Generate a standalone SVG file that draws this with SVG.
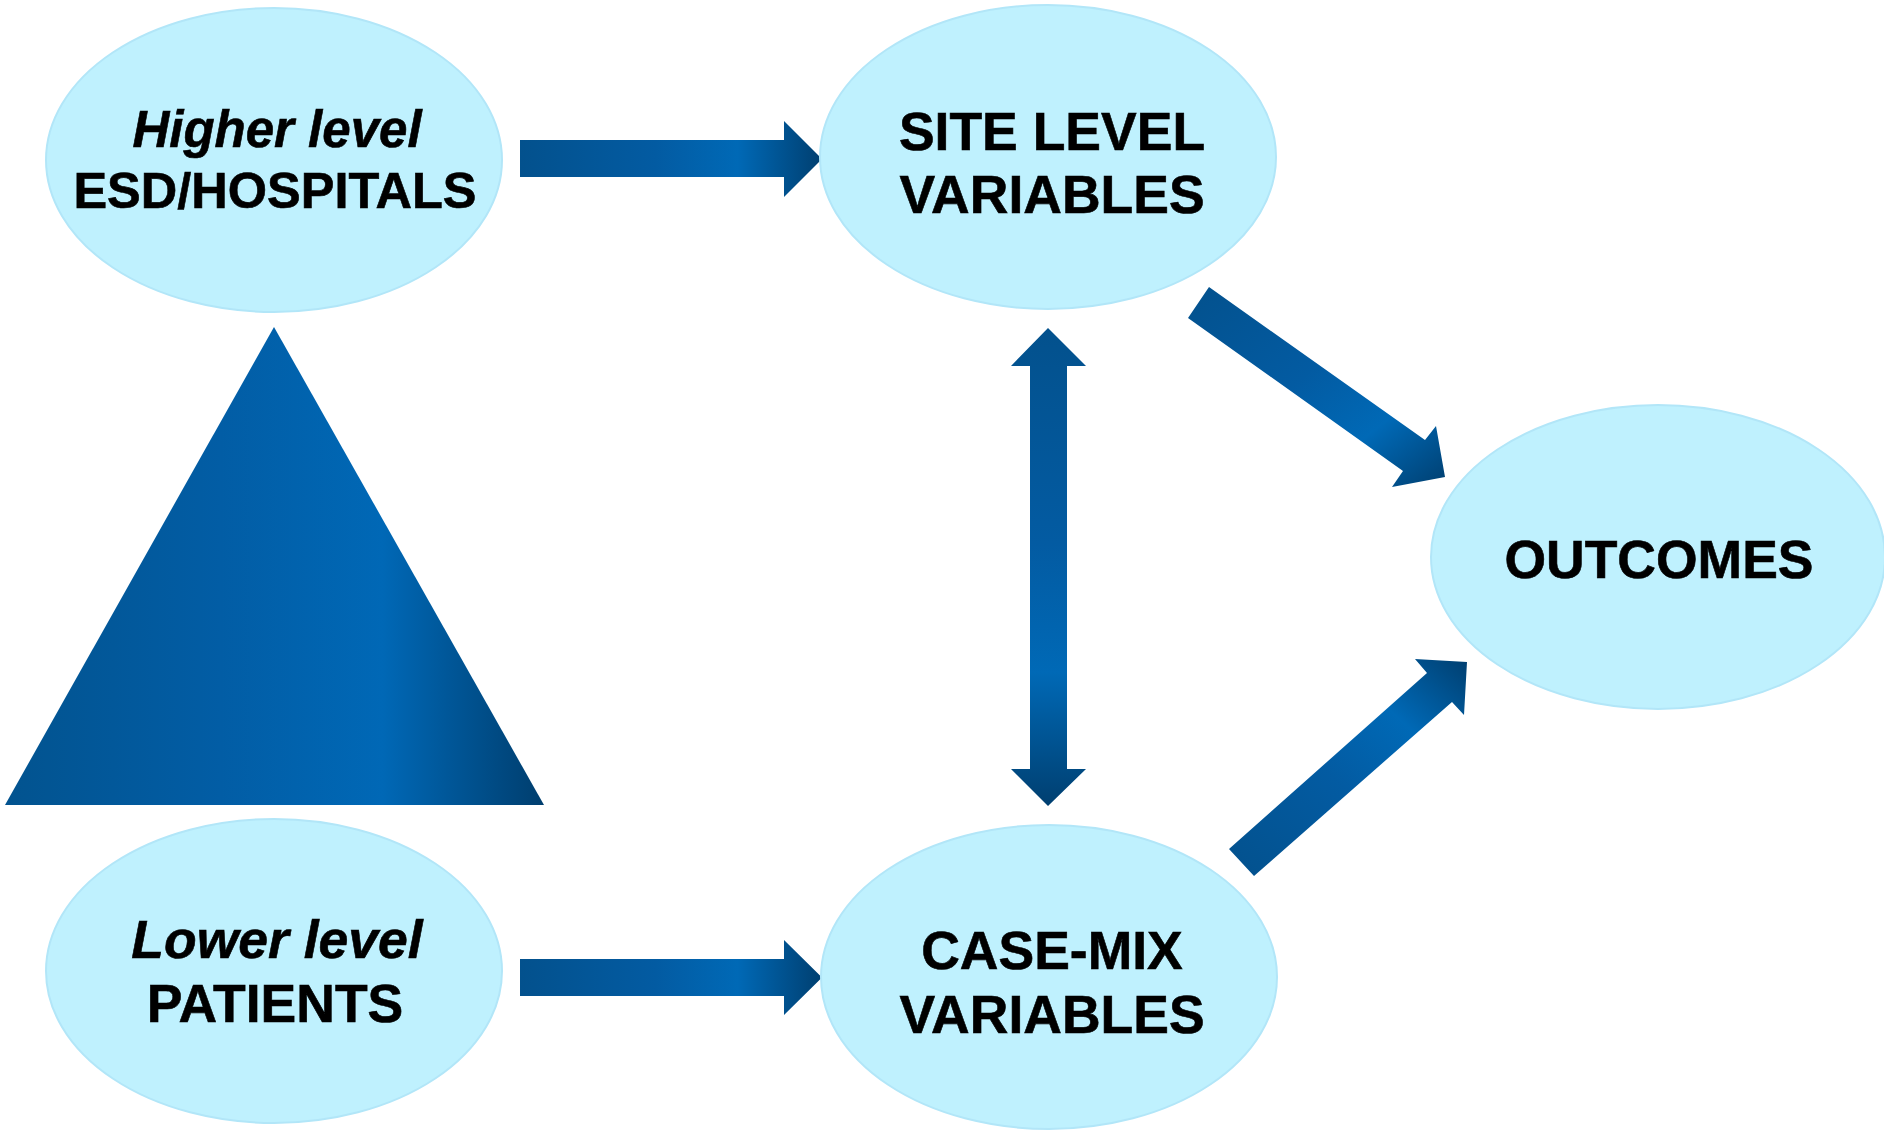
<svg xmlns="http://www.w3.org/2000/svg" width="1884" height="1132" viewBox="0 0 1884 1132">
<style>
.node ellipse{fill:#BFF1FE;stroke:#B2E6F8;stroke-width:2}
text{font-family:"Liberation Sans",Arial,sans-serif;font-weight:bold;fill:#000;text-anchor:middle;stroke:#000;stroke-width:0.6}
.it{font-style:italic}
</style>
<defs>
<linearGradient id="gH" x1="0" y1="0" x2="1" y2="0">
<stop offset="0" stop-color="#03518D"/><stop offset="0.45" stop-color="#035BA2"/><stop offset="0.72" stop-color="#0069B6"/><stop offset="1" stop-color="#003F70"/>
</linearGradient>
<linearGradient id="gV" x1="0" y1="0" x2="0" y2="1">
<stop offset="0" stop-color="#03518D"/><stop offset="0.45" stop-color="#035BA2"/><stop offset="0.72" stop-color="#0069B6"/><stop offset="1" stop-color="#003F70"/>
</linearGradient>
<linearGradient id="gD1" x1="0" y1="0" x2="1" y2="1">
<stop offset="0" stop-color="#03518D"/><stop offset="0.45" stop-color="#035BA2"/><stop offset="0.72" stop-color="#0069B6"/><stop offset="1" stop-color="#003F70"/>
</linearGradient>
<linearGradient id="gD2" x1="0" y1="1" x2="1" y2="0">
<stop offset="0" stop-color="#03518D"/><stop offset="0.45" stop-color="#035BA2"/><stop offset="0.72" stop-color="#0069B6"/><stop offset="1" stop-color="#003F70"/>
</linearGradient>
<linearGradient id="gT" x1="0" y1="0" x2="1" y2="0">
<stop offset="0" stop-color="#02538F"/><stop offset="0.4" stop-color="#025DA5"/><stop offset="0.7" stop-color="#0068B6"/><stop offset="1" stop-color="#003E6E"/>
</linearGradient>
</defs>
<g id="pyramid">
<polygon points="274,327 544,805 5,805" fill="url(#gT)"/>
</g>
<g id="connectors">
<polygon points="520,140 784,140 784,121 822,159 784,197 784,177 520,177" fill="url(#gH)"/>
<polygon points="520,959 784,959 784,940 822,977.5 784,1015 784,996 520,996" fill="url(#gH)"/>
<polygon points="1048,328 1086,366 1067,366 1067,769 1086,769 1048,806 1011,769 1030,769 1030,366 1011,366" fill="url(#gV)"/>
<polygon points="1209,287 1425,440 1436,426 1445,477 1392,487 1403,471 1188,318" fill="url(#gD1)"/>
<polygon points="1229,849 1427,673 1415,659 1467,662 1464,715 1452,702 1254,876" fill="url(#gD2)"/>
</g>
<g id="node-higher" class="node">
<ellipse cx="274" cy="160" rx="228" ry="152"/>
<text x="277" y="147" font-size="51" class="it">Higher level</text>
<text x="275" y="208" font-size="50.5">ESD/HOSPITALS</text>
</g>
<g id="node-site" class="node">
<ellipse cx="1048" cy="157" rx="228" ry="152"/>
<text x="1052" y="150" font-size="53.5">SITE LEVEL</text>
<text x="1052" y="213" font-size="53.5">VARIABLES</text>
</g>
<g id="node-outcomes" class="node">
<ellipse cx="1658" cy="557" rx="227" ry="152"/>
<text x="1659" y="578" font-size="53.5">OUTCOMES</text>
</g>
<g id="node-lower" class="node">
<ellipse cx="274" cy="971" rx="228" ry="152"/>
<text x="277" y="958" font-size="53.5" class="it">Lower level</text>
<text x="275" y="1022" font-size="53.5">PATIENTS</text>
</g>
<g id="node-casemix" class="node">
<ellipse cx="1049" cy="977" rx="228" ry="152"/>
<text x="1052" y="969" font-size="53.5">CASE-MIX</text>
<text x="1052" y="1033" font-size="53.5">VARIABLES</text>
</g>
</svg>
